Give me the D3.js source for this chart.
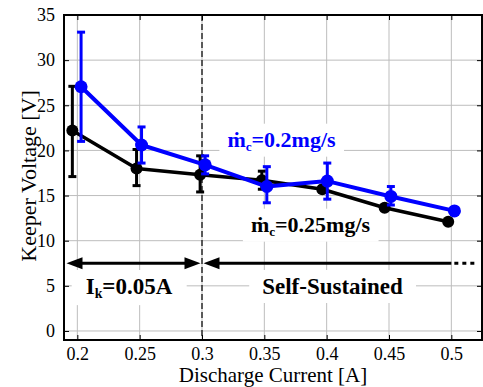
<!DOCTYPE html>
<html>
<head>
<meta charset="utf-8">
<script src="https://cdn.jsdelivr.net/npm/d3@7"></script>
<style>
  html, body { margin: 0; padding: 0; background: #fff; }
  svg { display: block; font-family: 'Liberation Serif', 'Times New Roman', serif; }
</style>
</head>
<body>
<div id="chart"></div>
<script>
const xTicks = [0.2, 0.25, 0.3, 0.35, 0.4, 0.45, 0.5];
const yTicks = [0, 5, 10, 15, 20, 25, 30, 35];

// 0.25 mg/s (black) - points are plotted slightly left of the nominal current
const blackX = [0.196, 0.2475, 0.2985, 0.348, 0.3965, 0.4465, 0.4975];
const blackY = [22.2, 18.0, 17.3, 16.7, 15.7, 13.65, 12.1];
const blackLo = [17.1, 16.1, 15.4, 15.7, null, null, null];
const blackHi = [27.1, 20.1, 19.4, 17.7, null, null, null];

// 0.2 mg/s (blue) - plotted slightly right
const blueX = [0.203, 0.2515, 0.3025, 0.352, 0.4005, 0.4515, 0.5025];
const blueY = [27.05, 20.6, 18.4, 16.0, 16.6, 14.9, 13.3];
const blueLo = [21.0, 18.6, 17.4, 14.2, 14.6, 13.95, null];
const blueHi = [33.1, 22.6, 19.4, 18.2, 18.6, 16.0, null];

const W = 483, H = 387;
const margin = { top: 15, right: 1, bottom: 47, left: 64 };
const width = W - margin.left - margin.right;
const height = H - margin.top - margin.bottom;

const svgRoot = d3.select('#chart').append('svg').attr('width', W).attr('height', H);
const svg = svgRoot.append('g').attr('transform', `translate(${margin.left},${margin.top})`);

const x = d3.scaleLinear().domain([0.1893, 0.5246]).range([0, width]);
const y = d3.scaleLinear().domain([-1, 35]).range([height, 0]);

// grid
svg.append('g').selectAll('line').data(xTicks).enter().append('line')
  .attr('x1', d => x(d)).attr('x2', d => x(d)).attr('y1', 0).attr('y2', height)
  .attr('stroke', '#bdbdbd').attr('stroke-width', 1);
svg.append('g').selectAll('line').data(yTicks).enter().append('line')
  .attr('x1', 0).attr('x2', width).attr('y1', d => y(d)).attr('y2', d => y(d))
  .attr('stroke', '#bdbdbd').attr('stroke-width', 1);

// annotation text with white boxes
function label(txt, sub, rest, cx, cy, size, color, padX, padY) {
  const g = svg.append('g');
  const t = g.append('text').attr('x', cx).attr('y', cy).attr('text-anchor', 'middle')
    .attr('font-size', size).attr('font-weight', 'bold').attr('fill', color);
  t.append('tspan').text(txt);
  if (sub) {
    t.append('tspan').attr('font-size', size * 0.6).attr('dy', size * 0.18).text(sub);
    t.append('tspan').attr('dy', -size * 0.18).text(rest);
  }
  const bb = t.node().getBBox();
  g.insert('rect', 'text').attr('x', bb.x - padX).attr('y', bb.y - padY)
    .attr('width', bb.width + 2 * padX).attr('height', bb.height + 2 * padY).attr('fill', '#fff');
}

label('I', 'k', '=0.05A', 129 - margin.left, 294 - margin.top, 23, '#000', 14, 4);
label('Self-Sustained', null, null, 332.5 - margin.left, 294 - margin.top, 23, '#000', 13, 4);
label('\u1E41', 'c', '=0.2mg/s', 281.5 - margin.left, 146.7 - margin.top, 22, '#0000ff', 8, 3);
label('\u1E41', 'c', '=0.25mg/s', 310.5 - margin.left, 231.7 - margin.top, 22, '#000', 8, 3);

// divider at 0.3 A
svg.append('line').attr('x1', x(0.3)).attr('x2', x(0.3)).attr('y1', 0).attr('y2', height)
  .attr('stroke', '#000').attr('stroke-width', 1.2).attr('stroke-dasharray', '6,3');

// arrows at 7.5 V
const arrowY = y(7.5);
function arrowHead(tipX, dir) {
  svg.append('path')
    .attr('d', `M${tipX},${arrowY} L${tipX + dir * 16},${arrowY - 6} L${tipX + dir * 16},${arrowY + 6} Z`)
    .attr('fill', '#000');
}
const leftStart = 2.5, leftEnd = x(0.3) - 1.5, rightStart = x(0.3) + 1.5;
svg.append('line').attr('x1', leftStart + 10).attr('x2', leftEnd - 10).attr('y1', arrowY).attr('y2', arrowY)
  .attr('stroke', '#000').attr('stroke-width', 3);
arrowHead(leftStart, 1);
arrowHead(leftEnd, -1);
svg.append('line').attr('x1', rightStart + 10).attr('x2', x(0.5)).attr('y1', arrowY).attr('y2', arrowY)
  .attr('stroke', '#000').attr('stroke-width', 3);
arrowHead(rightStart, 1);
svg.append('line').attr('x1', x(0.5) + 3).attr('x2', x(0.5) + 27).attr('y1', arrowY).attr('y2', arrowY)
  .attr('stroke', '#000').attr('stroke-width', 3).attr('stroke-dasharray', '4,4');

// series
function drawSeries(xs, ys, lo, hi, color, r, lw) {
  const pts = xs.map((d, i) => [d, ys[i]]);
  const line = d3.line().x(d => x(d[0])).y(d => y(d[1]));
  svg.append('path').datum(pts).attr('fill', 'none').attr('stroke', color)
    .attr('stroke-width', lw).attr('stroke-linejoin', 'round').attr('d', line);
  const eb = svg.append('g').attr('stroke', color).attr('stroke-width', 3);
  xs.forEach((d, i) => {
    if (lo[i] == null) return;
    const cx = x(d);
    eb.append('line').attr('x1', cx).attr('x2', cx).attr('y1', y(lo[i])).attr('y2', y(hi[i]));
    [lo[i], hi[i]].forEach(v => {
      eb.append('line').attr('x1', cx - 4).attr('x2', cx + 4).attr('y1', y(v)).attr('y2', y(v));
    });
  });
  svg.append('g').selectAll('circle').data(pts).enter().append('circle')
    .attr('cx', d => x(d[0])).attr('cy', d => y(d[1])).attr('r', r).attr('fill', color);
}
drawSeries(blackX, blackY, blackLo, blackHi, '#000', 6, 3.5);
drawSeries(blueX, blueY, blueLo, blueHi, '#0000ff', 6.5, 4);

// axes box with inward ticks
const axB = svg.append('g').attr('transform', `translate(0,${height})`)
  .call(d3.axisBottom(x).tickValues(xTicks).tickSize(-5).tickPadding(7).tickFormat(d3.format('')));
const axT = svg.append('g').call(d3.axisTop(x).tickValues(xTicks).tickSize(-5).tickFormat(''));
const axL = svg.append('g')
  .call(d3.axisLeft(y).tickValues(yTicks).tickSize(-5).tickPadding(9));
const axR = svg.append('g').attr('transform', `translate(${width},0)`)
  .call(d3.axisRight(y).tickValues(yTicks).tickSize(-5).tickFormat(''));
[axB, axT, axL, axR].forEach(a => {
  a.attr('font-family', null);
  a.select('.domain').remove();
  a.selectAll('.tick line').attr('stroke', '#000').attr('stroke-width', 1);
  a.selectAll('text').attr('font-family', 'Liberation Serif, serif').attr('font-size', 18).attr('fill', '#000');
});
svg.append('rect').attr('x', 0).attr('y', 0).attr('width', width).attr('height', height)
  .attr('fill', 'none').attr('stroke', '#000').attr('stroke-width', 2);

// axis titles
svgRoot.append('text').attr('x', 273).attr('y', 382).attr('text-anchor', 'middle')
  .attr('font-size', 21).text('Discharge Current [A]');
svgRoot.append('text').attr('transform', 'translate(36,176) rotate(-90)').attr('text-anchor', 'middle')
  .attr('font-size', 22).text('Keeper Voltage [V]');
</script>
</body>
</html>
